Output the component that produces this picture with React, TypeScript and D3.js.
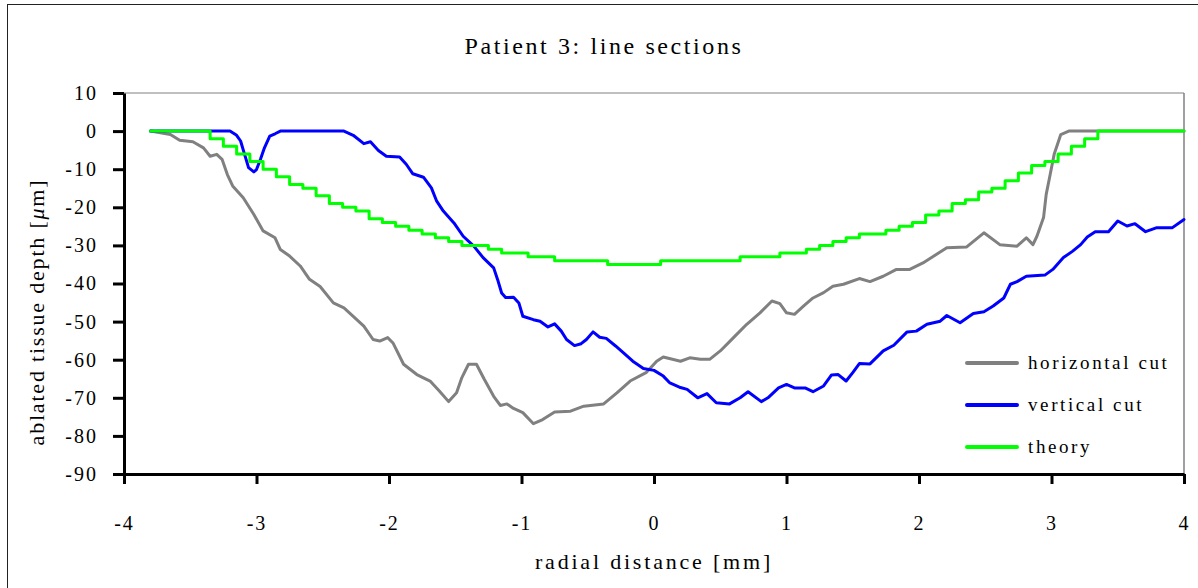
import React, { useEffect, useRef } from "react";
import * as d3 from "d3";

// Profile along the horizontal cut (radial distance in mm, depth in µm)
const horizontalX = [
  -3.8, -3.65, -3.58, -3.48, -3.4, -3.35, -3.3, -3.26, -3.22, -3.18, -3.1, -3.02, -2.95, -2.86, -2.82,
  -2.75, -2.67, -2.6, -2.52, -2.42, -2.34, -2.27, -2.19, -2.12, -2.07, -2.01, -1.97, -1.89, -1.79, -1.69,
  -1.62, -1.55, -1.49, -1.45, -1.4, -1.34, -1.28, -1.21, -1.16, -1.11, -1.06, -0.99, -0.91, -0.84, -0.75,
  -0.63, -0.53, -0.38, -0.28, -0.18, -0.06, 0.02, 0.07, 0.2, 0.27, 0.35, 0.42, 0.5, 0.6, 0.7, 0.8, 0.89,
  0.95, 1.0, 1.06, 1.13, 1.2, 1.28, 1.35, 1.43, 1.55, 1.63, 1.73, 1.83, 1.93, 2.03, 2.13, 2.21, 2.36, 2.49,
  2.61, 2.74, 2.81, 2.86, 2.89, 2.94, 2.96, 2.99, 3.02, 3.07, 3.13, 4.0,
];
const horizontalDepth = [
  0, -0.9, -2.4, -2.8, -4.4, -6.6, -6.1, -7.4, -11.4, -14.4, -17.5, -21.9, -26.2, -28.0, -31.1,
  -32.8, -35.4, -38.9, -40.8, -45.1, -46.4, -48.6, -51.2, -54.7, -55.1, -54.2, -55.6, -61.2, -63.9, -65.6,
  -68.2, -71.0, -68.7, -64.7, -61.2, -61.2, -65.2, -69.6, -72.0, -71.6, -72.8, -73.9, -76.8, -75.7, -73.7,
  -73.5, -72.2, -71.6, -68.7, -65.6, -63.4, -60.4, -59.3, -60.4, -59.5, -59.9, -59.9, -57.7, -54.2, -50.7, -47.7, -44.6,
  -45.3, -47.7, -48.1, -45.9, -43.8, -42.4, -40.7, -40.2, -38.7, -39.5, -38.1, -36.3, -36.3, -34.6, -32.4, -30.6, -30.4, -26.7,
  -29.8, -30.2, -28.0, -29.8, -27.6, -22.7, -16.6, -11.4, -6.1, -0.9, 0, 0,
];

// Profile along the vertical cut
const verticalX = [
  -3.8, -3.2, -3.15, -3.12, -3.09, -3.06, -3.02, -3.0, -2.97, -2.94, -2.9, -2.86, -2.82, -2.34, -2.27,
  -2.19, -2.14, -2.08, -2.02, -1.92, -1.87, -1.82, -1.74, -1.68, -1.64, -1.59, -1.51, -1.44, -1.36, -1.29,
  -1.21, -1.18, -1.15, -1.12, -1.06, -1.02, -0.99, -0.91, -0.86, -0.8, -0.75, -0.7, -0.66, -0.6, -0.55,
  -0.51, -0.46, -0.41, -0.36, -0.29, -0.23, -0.16, -0.08, 0.0, 0.07, 0.12, 0.2, 0.25, 0.33, 0.4, 0.47,
  0.57, 0.65, 0.71, 0.81, 0.86, 0.94, 1.0, 1.06, 1.14, 1.2, 1.28, 1.34, 1.39, 1.45, 1.5, 1.55, 1.63, 1.73,
  1.81, 1.91, 1.98, 2.06, 2.16, 2.21, 2.31, 2.41, 2.49, 2.56, 2.64, 2.69, 2.74, 2.81, 2.95, 3.01, 3.09,
  3.16, 3.22, 3.27, 3.33, 3.43, 3.5, 3.57, 3.63, 3.71, 3.79, 3.91, 4.0,
];
const verticalDepth = [
  0, 0, -1.1, -2.6, -6.1, -9.6, -10.7, -10.1, -7.4, -4.4, -1.3, -0.7, 0, 0, -1.1,
  -3.3, -2.8, -5.1, -6.6, -6.8, -8.7, -11.2, -12.1, -14.9, -18.4, -21.0, -24.1, -27.6, -30.2, -33.2,
  -35.9, -39.0, -42.5, -43.7, -43.6, -45.1, -48.6, -49.5, -49.9, -51.4, -50.6, -52.5, -54.7, -56.3, -55.8,
  -54.7, -52.7, -54.1, -54.4, -56.4, -58.2, -60.4, -62.3, -62.8, -64.3, -66.1, -67.3, -67.8, -70.0, -68.9, -71.3,
  -71.6, -70.0, -68.4, -71.0, -70.0, -67.4, -66.5, -67.4, -67.4, -68.4, -66.9, -64.0, -63.9, -65.6, -63.4, -61.0, -61.1, -57.7,
  -56.2, -52.7, -52.5, -50.7, -49.9, -48.4, -50.3, -47.9, -47.4, -45.9, -43.8, -40.2, -39.5, -38.1, -37.8, -36.3, -33.2,
  -31.5, -29.8, -27.8, -26.4, -26.4, -23.6, -24.9, -24.3, -26.4, -25.4, -25.4, -23.2,
];

// Theoretical ablation profile, sampled every 0.1 mm
const theoryX = [
  -3.8, -3.7, -3.6, -3.5, -3.4, -3.3, -3.2, -3.1, -3.0, -2.9, -2.8, -2.7, -2.6, -2.5, -2.4, -2.3, -2.2, -2.1,
  -2.0, -1.9, -1.8, -1.7, -1.6, -1.5, -1.4, -1.3, -1.2, -1.1, -1.0, -0.9, -0.8, -0.7, -0.6, -0.5, -0.4, -0.3,
  -0.2, -0.1, 0.0, 0.1, 0.2, 0.3, 0.4, 0.5, 0.6, 0.7, 0.8, 0.9, 1.0, 1.1, 1.2, 1.3, 1.4, 1.5, 1.6, 1.7, 1.8,
  1.9, 2.0, 2.1, 2.2, 2.3, 2.4, 2.5, 2.6, 2.7, 2.8, 2.9, 3.0, 3.1, 3.2, 3.3, 3.4, 3.5, 3.6, 3.7, 3.8, 3.9, 4.0,
];
const theoryDepth = [
  0, 0, 0, 0, 0, -2, -4, -6, -8, -10, -12, -14, -15, -17, -19, -20, -21, -23,
  -24, -25, -26, -27, -28, -29, -30, -30, -31, -32, -32, -33, -33, -34, -34, -34, -34, -35,
  -35, -35, -35, -34, -34, -34, -34, -34, -34, -33, -33, -33, -32, -32, -31, -30, -29, -28, -27, -27, -26,
  -25, -24, -22, -21, -19, -18, -16, -15, -13, -11, -9, -8, -6, -4, -2, 0, 0, 0, 0, 0, 0, 0,
];

const xTicks = [-4, -3, -2, -1, 0, 1, 2, 3, 4];
const yTicks = [10, 0, -10, -20, -30, -40, -50, -60, -70, -80, -90];

const seriesNames = ["horizontal cut", "vertical cut", "theory"];
const seriesColors = ["#808080", "#0000ff", "#00ff00"];

const W = 1198;
const H = 588;
const FONT = "'Liberation Serif', 'Times New Roman', serif";

export default function App() {
  const xAxisRef = useRef<SVGGElement>(null);
  const yAxisRef = useRef<SVGGElement>(null);

  const x = d3.scaleLinear().domain([-4, 4]).range([124, 1184]);
  const y = d3.scaleLinear().domain([-90, 10]).range([474, 93]);

  const series = [
    { xs: horizontalX, ys: horizontalDepth, curve: d3.curveLinear },
    { xs: verticalX, ys: verticalDepth, curve: d3.curveLinear },
    { xs: theoryX, ys: theoryDepth, curve: d3.curveStep },
  ];

  useEffect(() => {
    const fmt = (d: d3.NumberValue) => String(d);
    const xa = d3
      .axisBottom(x)
      .tickValues(xTicks)
      .tickSizeInner(10)
      .tickSizeOuter(0)
      .tickPadding(32)
      .tickFormat(fmt);
    const ya = d3
      .axisLeft(y)
      .tickValues(yTicks)
      .tickSizeInner(11)
      .tickSizeOuter(0)
      .tickPadding(15)
      .tickFormat(fmt);
    const gx = d3.select(xAxisRef.current!);
    const gy = d3.select(yAxisRef.current!);
    gx.call(xa);
    gy.call(ya);
    [gx, gy].forEach((g) => {
      g.select(".domain").attr("stroke", "#000").attr("stroke-width", 3);
      g.selectAll(".tick line").attr("stroke", "#000").attr("stroke-width", 3);
      g.selectAll(".tick text")
        .attr("fill", "#000")
        .style("font-family", FONT)
        .style("font-size", "20px")
        .style("letter-spacing", "2px");
    });
  });

  return (
    <svg
      width={W}
      height={H}
      style={{ position: "absolute", left: 0, top: 0, background: "#fff" }}
    >
      <rect x={7.5} y={4.5} width={W} height={H} fill="#fff" stroke="#222" strokeWidth={1} />
      <text
        x={604}
        y={54}
        textAnchor="middle"
        fontFamily={FONT}
        fontSize={24}
        letterSpacing={2.6}
      >
        Patient 3: line sections
      </text>

      {/* plot frame: thin grey top and right edges */}
      <line x1={x(-4)} x2={x(4)} y1={y(10)} y2={y(10)} stroke="#808080" strokeWidth={1} />
      <line x1={x(4)} x2={x(4)} y1={y(10)} y2={y(-90)} stroke="#808080" strokeWidth={1.5} />

      {series.map((s, i) => {
        const pts = s.xs.map((v, k) => [v, s.ys[k]] as [number, number]);
        const path = d3
          .line<[number, number]>()
          .x((d) => x(d[0]))
          .y((d) => y(d[1]))
          .curve(s.curve)(pts);
        return (
          <path
            key={seriesNames[i]}
            d={path ?? ""}
            fill="none"
            stroke={seriesColors[i]}
            strokeWidth={3}
            strokeLinejoin="round"
            strokeLinecap="round"
          />
        );
      })}

      <g ref={yAxisRef} transform={`translate(${x(-4)},0)`} />
      <g ref={xAxisRef} transform={`translate(0,${y(-90)})`} />

      <text
        x={654}
        y={569}
        textAnchor="middle"
        fontFamily={FONT}
        fontSize={22}
        letterSpacing={2.8}
      >
        radial distance [mm]
      </text>
      <text
        transform="translate(44,312) rotate(-90)"
        textAnchor="middle"
        fontFamily={FONT}
        fontSize={22}
        letterSpacing={1.8}
      >
        ablated tissue depth [<tspan fontStyle="italic">μ</tspan>m]
      </text>

      {seriesNames.map((name, i) => {
        const ly = 363 + i * 42;
        return (
          <g key={name}>
            <line x1={967} x2={1017} y1={ly} y2={ly} stroke={seriesColors[i]} strokeWidth={4} strokeLinecap="round" />
            <text
              x={1028}
              y={ly + 6}
              fontFamily={FONT}
              fontSize={19}
              letterSpacing={2.6}
            >
              {name}
            </text>
          </g>
        );
      })}
    </svg>
  );
}
